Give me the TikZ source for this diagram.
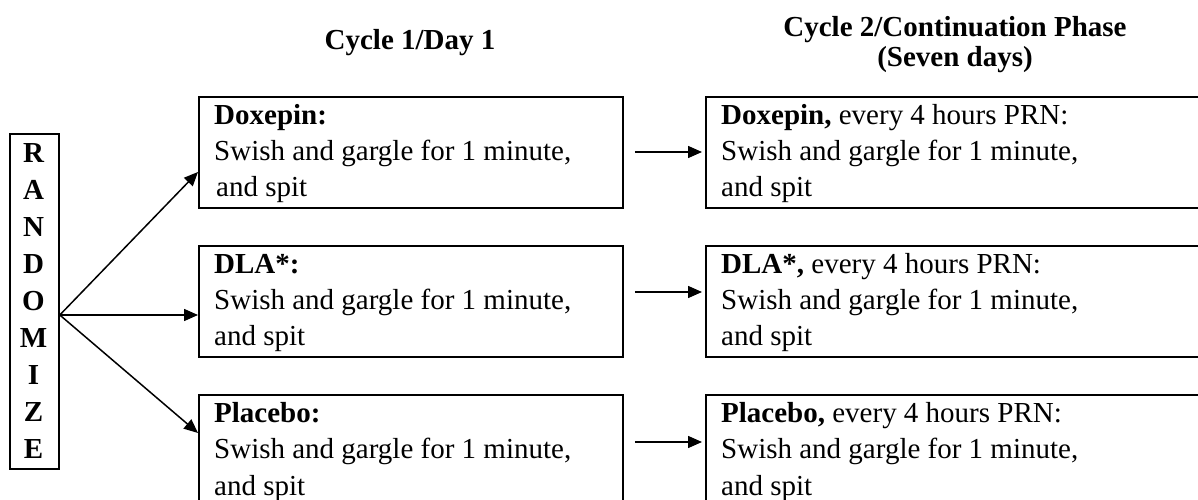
\documentclass[tikz,border=0pt]{standalone}
\usepackage{fontspec}
\setmainfont{Liberation Serif}
\usetikzlibrary{arrows.meta,calc}
\begin{document}
\begin{tikzpicture}[x=1pt,y=1pt,
  box/.style={draw,line width=1.8pt,minimum width=424pt,minimum height=111pt,inner sep=0pt,anchor=north west},
  rbox/.style={box,minimum width=540pt},
  txt/.style={anchor=base west,align=left,inner sep=0pt,font=\fontsize{29}{36}\selectfont},
  arr/.style={line width=1.5pt,-{Triangle[length=14pt,width=12pt]}},
  head/.style={anchor=base,align=center,inner sep=0pt,font=\fontsize{29}{30}\selectfont\bfseries}]
\useasboundingbox (0,0) rectangle (1198,500);
\clip (0,0) rectangle (1198,500);

% headings (base anchor = last line baseline)
\node[head] (h1) at (410,450) {Cycle 1/Day 1};
\node[head] (h2) at (955,433) {Cycle 2/Continuation Phase\\(Seven days)};

% randomize box
\node[draw,line width=1.8pt,minimum width=49pt,minimum height=335pt,inner sep=0pt,anchor=north west] (rnd) at (9,367) {};
\node[anchor=base,align=center,inner sep=0pt,font=\fontsize{29}{37}\selectfont\bfseries] (rtxt) at (33.5,41) {R\\A\\N\\D\\O\\M\\I\\Z\\E};

% left boxes
\node[box] (L1) at (198,404) {};
\node[box] (L2) at (198,255) {};
\node[box] (L3) at (198,106) {};
% right boxes
\node[rbox] (R1) at (705,404) {};
\node[rbox] (R2) at (705,255) {};
\node[rbox] (R3) at (705,106) {};

% texts (anchored at baseline of last line)
\node[txt] (t1) at ($(L1.north west)+(16,-101)$) {\textbf{Doxepin:}\\Swish and gargle for 1 minute,\\\hspace*{2pt}and spit};
\node[txt] (t2) at ($(L2.north west)+(16,-101)$) {\textbf{DLA*:}\\Swish and gargle for 1 minute,\\and spit};
\node[txt] (t3) at ($(L3.north west)+(16,-101)$) {\textbf{Placebo:}\\Swish and gargle for 1 minute,\\and spit};
\node[txt] (u1) at ($(R1.north west)+(16,-101)$) {\textbf{Doxepin,} every 4 hours PRN:\\Swish and gargle for 1 minute,\\and spit};
\node[txt] (u2) at ($(R2.north west)+(16,-101)$) {\textbf{DLA*,} every 4 hours PRN:\\Swish and gargle for 1 minute,\\and spit};
\node[txt] (u3) at ($(R3.north west)+(16,-101)$) {\textbf{Placebo,} every 4 hours PRN:\\Swish and gargle for 1 minute,\\and spit};

% fan arrows
\coordinate (rs) at (rnd.east |- 0,185);
\draw[arr] (rs) -- (L1.west |- 0,328);
\draw[arr] (rs) -- (L2.west |- 0,185);
\draw[arr] (rs) -- (L3.west |- 0,67);

% connecting arrows
\coordinate (a1) at ($(L1.east |- 0,348)+(11,0)$);
\coordinate (a2) at ($(L2.east |- 0,208)+(11,0)$);
\coordinate (a3) at ($(L3.east |- 0,58)+(11,0)$);
\draw[arr] (a1) -- ($(R1.west |- a1)+(-3,0)$);
\draw[arr] (a2) -- ($(R2.west |- a2)+(-3,0)$);
\draw[arr] (a3) -- ($(R3.west |- a3)+(-3,0)$);
\end{tikzpicture}
\end{document}
